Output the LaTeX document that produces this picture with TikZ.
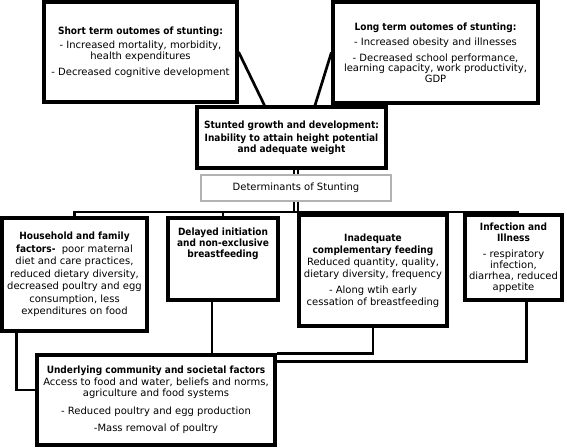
\documentclass[tikz,border=0pt]{standalone}
\usepackage{fontspec}
\setmainfont{DejaVu Sans}[BoldFont={DejaVu Sans Condensed Bold}]
\tikzset{
    box/.style={draw=black, line width=3.2pt, fill=white, align=center, inner sep=1pt,
        font=\fontsize{10}{10.5}\selectfont},
    loose/.style={font=\fontsize{10}{12.5}\selectfont},
    link/.style={draw=black, line width=2.7pt},
    dbl/.style={double, draw=black, line width=1.6pt, double distance=2.4pt},
}
\begin{document}
\begin{tikzpicture}[x=1pt, y=-1pt]
    \useasboundingbox (0,0) rectangle (567,447);

    % Outcomes at the top
    \node[box, minimum width=193pt, minimum height=100pt] (shortT) at (140.5,52)
        {\textbf{Short term outomes of stunting:}\\[4pt]
         - Increased mortality, morbidity,\\ health expenditures\\[6pt]
         - Decreased cognitive development};
    \node[box, minimum width=205pt, minimum height=101pt] (longT) at (435.5,52.5)
        {\textbf{Long term outomes of stunting:}\\[5pt]
         - Increased obesity and illnesses\\[5pt]
         - Decreased school performance,\\ learning capacity, work productivity,\\ GDP};

    % Stunting itself
    \node[box, minimum width=189pt, minimum height=61pt] (stunted) at (291.5,137.5)
        {\textbf{Stunted growth and development:}\\[3pt]
         \textbf{Inability to attain height potential}\\ \textbf{and adequate weight}};
    \node[box, draw=gray!60, line width=1.6pt, minimum width=190pt, minimum height=26pt]
        (determ) at (296,188) {Determinants of Stunting};

    % Outcomes feed into stunting
    \draw[link] (shortT.east) -- ([xshift=-27pt]stunted.north);
    \draw[link] (longT.west) -- ([xshift=23.5pt]stunted.north);

    % Determinants
    \node[box, loose, minimum width=145pt, minimum height=113pt] (household) at (74.5,274.5)
        {\textbf{Household and family}\\ \textbf{factors-}~ poor maternal\\ diet and care practices,\\
         reduced dietary diversity,\\ decreased poultry and egg\\ consumption, less\\ expenditures on food};
    \node[box, minimum width=110pt, minimum height=82pt,
        label={[font=\fontsize{10}{11}\selectfont\bfseries, align=center, anchor=north, yshift=-8pt]north:{Delayed initiation\\and non-exclusive\\breastfeeding}}]
        (delayed) at (223,259) {};
    \node[box, font=\fontsize{10}{12}\selectfont, minimum width=148pt, minimum height=111pt] (inadeq) at (373,270.5)
        {\textbf{Inadequate}\\ \textbf{complementary feeding}\\ Reduced quantity, quality,\\
         dietary diversity, frequency\\[4pt] - Along wtih early\\ cessation of breastfeeding};
    \node[box, font=\fontsize{10}{11}\selectfont, minimum width=97pt, minimum height=85pt] (infect) at (513.5,257.5)
        {\textbf{Infection and}\\ \textbf{Illness}\\[5pt] - respiratory\\ infection,\\ diarrhea, reduced\\ appetite};

    % Underlying factors
    \node[box, font=\fontsize{10}{11.5}\selectfont, minimum width=238pt, minimum height=90pt] (underl) at (156,400)
        {\textbf{Underlying community and societal factors}\\ Access to food and water, beliefs and norms,\\
         agriculture and food systems\\[6pt] - Reduced poultry and egg production\\[6pt] -Mass removal of poultry};

    % Determinants hang from stunting
    \coordinate (bus) at (296,212);
    \draw[dbl] (stunted.south -| determ.north) -- (determ.north);
    \draw[dbl] (determ.south) -- (bus);
    \draw[link] (household.north) |- (bus) -| ([xshift=4.5pt]infect.north);
    \draw[link] (delayed.north) -- (delayed.north |- bus);
    \draw[link] ([xshift=-2.5pt]inadeq.north) -- ([xshift=-2.5pt]inadeq.north |- bus);

    % Underlying factors link to the determinants
    \draw[link] ([xshift=-58pt]household.south) |- ([yshift=10pt]underl.west);
    \draw[link] ([xshift=-11pt]delayed.south) -- ([xshift=-11pt]delayed.south |- underl.north);
    \draw[link] (inadeq.south) |- (underl.north east);
    \draw[link] ([xshift=13pt]infect.south) |- ([yshift=-8pt]underl.north east);
\end{tikzpicture}
\end{document}
